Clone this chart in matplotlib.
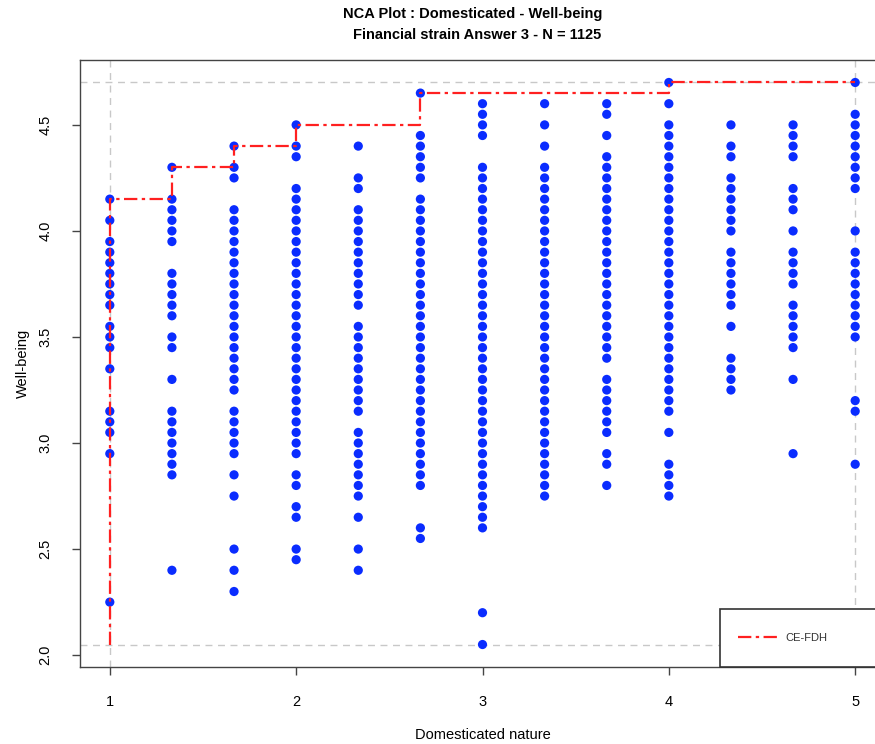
import matplotlib
matplotlib.use('Agg')
import matplotlib.pyplot as plt
from matplotlib.patches import Rectangle
import numpy as np

plt.rcParams['font.family'] = ['Liberation Sans', 'DejaVu Sans']

# x positions (Domesticated nature) and the Well-being values seen at each
x_levels = [1, 4/3, 5/3, 2, 7/3, 8/3, 3, 10/3, 11/3, 4, 13/3, 14/3, 5]

def run(hi, lo):
    # a continuous stretch of answers in steps of 0.05
    n = int(round((hi - lo) / 0.05)) + 1
    return list(np.round(np.linspace(hi, lo, n), 2))

y_col1 = [4.15, 4.05, 3.95, 3.90, 3.85, 3.80, 3.75, 3.70, 3.65, 3.55, 3.50, 3.45,
          3.35, 3.15, 3.10, 3.05, 2.95, 2.25]
y_col2 = [4.30, 4.15, 4.10, 4.05, 4.00, 3.95, 3.80, 3.75, 3.70, 3.65, 3.60, 3.50,
          3.45, 3.30, 3.15, 3.10, 3.05, 3.00, 2.95, 2.90, 2.85, 2.40]
y_col3 = [4.40, 4.30, 4.25] + run(4.10, 3.25) + [3.15, 3.10, 3.05, 3.00, 2.95, 2.85,
          2.75, 2.50, 2.40, 2.30]
y_col4 = [4.50, 4.40, 4.35] + run(4.20, 2.95) + [2.85, 2.80, 2.70, 2.65, 2.50, 2.45]
y_col5 = [4.40, 4.25, 4.20] + run(4.10, 3.65) + run(3.55, 3.15) + run(3.05, 2.75) + \
         [2.65, 2.50, 2.40]
y_col6 = [4.65] + run(4.45, 4.25) + run(4.15, 2.80) + [2.60, 2.55]
y_col7 = [4.60, 4.55, 4.50, 4.45] + run(4.30, 2.60) + [2.20, 2.05]
y_col8 = [4.60, 4.50, 4.40] + run(4.30, 2.75)
y_col9 = [4.60, 4.55, 4.45] + run(4.35, 3.40) + run(3.30, 3.05) + [2.95, 2.90, 2.80]
y_col10 = [4.70, 4.60, 4.50] + run(4.45, 3.15) + [3.05, 2.90, 2.85, 2.80, 2.75]
y_col11 = [4.50, 4.40, 4.35] + run(4.25, 4.00) + run(3.90, 3.65) + [3.55] + \
          run(3.40, 3.25)
y_col12 = [4.50, 4.45, 4.40, 4.35, 4.20, 4.15, 4.10, 4.00, 3.90, 3.85, 3.80, 3.75,
           3.65, 3.60, 3.55, 3.50, 3.45, 3.30, 2.95]
y_col13 = [4.70] + run(4.55, 4.20) + [4.00] + run(3.90, 3.50) + [3.20, 3.15, 2.90]

columns = [y_col1, y_col2, y_col3, y_col4, y_col5, y_col6, y_col7,
           y_col8, y_col9, y_col10, y_col11, y_col12, y_col13]

# CE-FDH ceiling steps
ceil_x = [1, 1, 4/3, 4/3, 5/3, 5/3, 2, 2, 8/3, 8/3, 4, 4, 5]
ceil_y = [2.05, 4.15, 4.15, 4.30, 4.30, 4.40, 4.40, 4.50, 4.50, 4.65, 4.65, 4.70, 4.70]

xs = []
ys = []
for xv, col in zip(x_levels, columns):
    xs += [xv] * len(col)
    ys += col

fig = plt.figure(figsize=(8.75, 7.44), dpi=100)
ax = fig.add_axes([80/875, 77/744, 805/875, 607/744])

x_min, x_max = min(xs), max(xs)
y_min, y_max = min(ys), max(ys)
pad_x = 0.04 * (x_max - x_min)
pad_y = 0.04 * (y_max - y_min)
ax.set_xlim(x_min - pad_x, x_max + pad_x)
ax.set_ylim(y_min - pad_y, y_max + pad_y)

grey = '#c8c8c8'
for v in (x_min, x_max):
    ax.axvline(v, color=grey, ls=(0, (5, 4)), lw=1, zorder=1)
for v in (y_min, y_max):
    ax.axhline(v, color=grey, ls=(0, (5, 4)), lw=1, zorder=1)

ax.scatter(xs, ys, s=44, color='#0a2cff', edgecolors='none', zorder=3)
ax.plot(ceil_x, ceil_y, color='#ff2020', ls=(0, (6, 2, 1.5, 2)), lw=1.6, zorder=4,
        label='CE-FDH')

ax.set_xticks([1, 2, 3, 4, 5])
ax.set_yticks([2.0, 2.5, 3.0, 3.5, 4.0, 4.5])
ax.tick_params(axis='both', length=6, width=1, color='#444444', labelsize=10.5,
               direction='out')
ax.tick_params(axis='x', pad=14)
ax.tick_params(axis='y', pad=14)
for lab in ax.get_yticklabels():
    lab.set_rotation(90)
    lab.set_va('center')
for sp in ax.spines.values():
    sp.set_color('#444444')
    sp.set_linewidth(1)

ax.set_xlabel('Domesticated nature', fontsize=10.5, labelpad=14)
ax.set_ylabel('Well-being', fontsize=10.5, labelpad=6)

fig.text(0.54, 0.99, 'NCA Plot : Domesticated - Well-being', ha='center', va='top',
         fontsize=10.5, fontweight='bold')
fig.text(0.545, 0.963, 'Financial strain Answer 3 - N = 1125', ha='center', va='top',
         fontsize=10.5, fontweight='bold')

# legend box in the lower right corner
ax.add_patch(Rectangle((0.795, 0), 0.3, 0.0956, transform=ax.transAxes,
                       facecolor='white', edgecolor='#333333', lw=1.2, zorder=5,
                       clip_on=False))
leg = ax.legend(loc='center left', bbox_to_anchor=(0.805, 0.048), frameon=False,
                fontsize=8, handlelength=3.5, handletextpad=0.8)
leg.set_zorder(6)
for t in leg.get_texts():
    t.set_color('#333333')

fig.savefig('out.png', dpi=100)
